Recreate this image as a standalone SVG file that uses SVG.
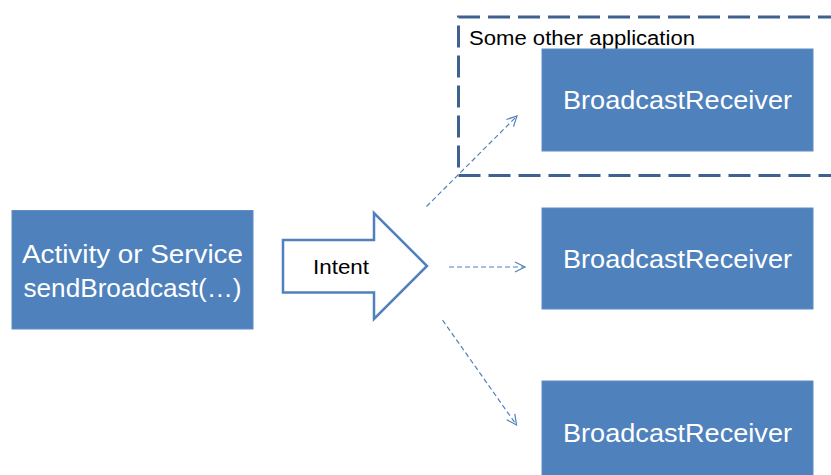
<svg xmlns="http://www.w3.org/2000/svg" width="831" height="475" viewBox="0 0 831 475">
<style>
.box{fill:#4F81BD;stroke:#5F8CC3;stroke-width:1}
.wt{fill:#FFFFFF;font-family:"Liberation Sans",Arial,sans-serif;font-size:26px;text-anchor:middle}
.bt{fill:#000000;font-family:"Liberation Sans",Arial,sans-serif}
.conn{fill:none;stroke:#4F81BD;stroke-width:1.2;stroke-dasharray:5 3}
</style>
<defs>
<marker id="ah" markerWidth="14" markerHeight="14" refX="11" refY="7" orient="auto" markerUnits="userSpaceOnUse">
<path d="M1,2 L11,7 L1,12" fill="none" stroke="#4F81BD" stroke-width="1.2"/>
</marker>
</defs>
<rect width="831" height="475" fill="#FFFFFF"/>
<g id="container">
<path d="M840,17 L458.5,17 L458.5,175.5 L840,175.5" fill="none" stroke="#3E6190" stroke-width="3" stroke-dasharray="22 8"/>
<text class="bt" x="469" y="45" font-size="20" textLength="226" lengthAdjust="spacingAndGlyphs">Some other application</text>
</g>
<g id="sender">
<rect class="box" x="12" y="210.5" width="241" height="118.5"/>
<text class="wt" x="132.5" y="263" textLength="221" lengthAdjust="spacingAndGlyphs">Activity or Service</text>
<text class="wt" x="132.5" y="297" textLength="218" lengthAdjust="spacingAndGlyphs">sendBroadcast(…)</text>
</g>
<g id="intent">
<path d="M283,240 L374,240 L374,213 L427,266 L374,319 L374,292.5 L283,292.5 Z" fill="#FFFFFF" stroke="#4F81BD" stroke-width="2.5" stroke-linejoin="miter"/>
<text class="bt" x="341" y="274" font-size="20" text-anchor="middle" textLength="56" lengthAdjust="spacingAndGlyphs">Intent</text>
</g>
<g id="receiver1">
<rect class="box" x="542" y="49" width="271" height="102"/>
<text class="wt" x="677.5" y="109" textLength="229" lengthAdjust="spacingAndGlyphs">BroadcastReceiver</text>
</g>
<g id="receiver2">
<rect class="box" x="542" y="208" width="271" height="101"/>
<text class="wt" x="677.5" y="268" textLength="229" lengthAdjust="spacingAndGlyphs">BroadcastReceiver</text>
</g>
<g id="receiver3">
<rect class="box" x="542" y="381" width="271" height="100"/>
<text class="wt" x="677.5" y="442" textLength="229" lengthAdjust="spacingAndGlyphs">BroadcastReceiver</text>
</g>
<g id="connectors">
<line class="conn" x1="426.5" y1="206.5" x2="517" y2="116" marker-end="url(#ah)"/>
<line class="conn" x1="449" y1="267" x2="525" y2="267" marker-end="url(#ah)"/>
<line class="conn" x1="442.5" y1="320" x2="516.5" y2="425" marker-end="url(#ah)"/>
</g>
</svg>
